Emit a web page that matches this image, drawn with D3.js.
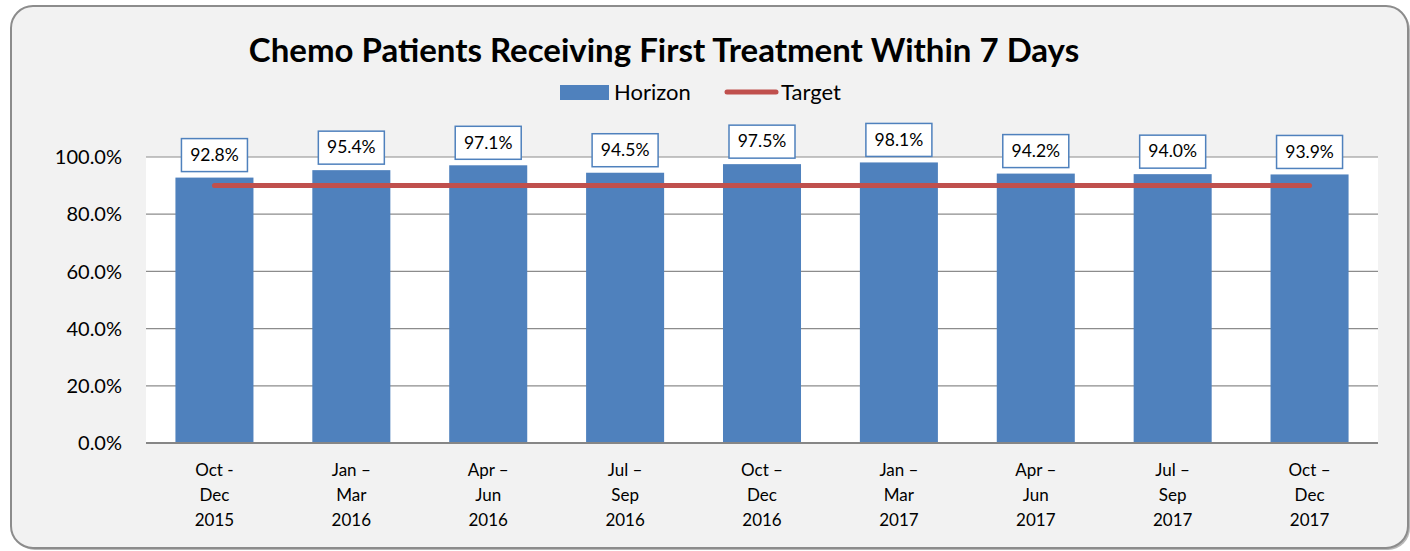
<!DOCTYPE html>
<html>
<head>
<meta charset="utf-8">
<script src="https://cdn.jsdelivr.net/npm/d3@7"></script>
<style>
  html, body { margin: 0; padding: 0; background: #fff; }
  svg { display: block; font-family: Lato, "Open Sans", sans-serif; }
</style>
</head>
<body>
<div id="chart"></div>
<script>
const categories = [
  ["Oct -", "Dec", "2015"],
  ["Jan –", "Mar", "2016"],
  ["Apr –", "Jun", "2016"],
  ["Jul –", "Sep", "2016"],
  ["Oct –", "Dec", "2016"],
  ["Jan –", "Mar", "2017"],
  ["Apr –", "Jun", "2017"],
  ["Jul –", "Sep", "2017"],
  ["Oct –", "Dec", "2017"]
];
const horizon = [92.8, 95.4, 97.1, 94.5, 97.5, 98.1, 94.2, 94.0, 93.9];
const target = [90, 90, 90, 90, 90, 90, 90, 90, 90];
const yTicks = [0, 20, 40, 60, 80, 100];

const width = 1410, height = 551;
const margin = { top: 157, right: 32, bottom: 108, left: 146 };
const innerW = width - margin.left - margin.right;
const innerH = height - margin.top - margin.bottom;

const svg = d3.select("#chart").append("svg")
  .attr("width", width)
  .attr("height", height);

// shadow + frame
svg.append("rect")
  .attr("x", 13).attr("y", 8)
  .attr("width", 1397).attr("height", 542)
  .attr("rx", 22)
  .attr("fill", "#8a8a8a")
  .attr("opacity", 0.6);
svg.append("rect")
  .attr("x", 11).attr("y", 6)
  .attr("width", 1397).attr("height", 542)
  .attr("rx", 22)
  .attr("fill", "#f2f2f2")
  .attr("stroke", "#8c8c8c")
  .attr("stroke-width", 2);

const g = svg.append("g")
  .attr("transform", `translate(${margin.left},${margin.top})`);

const x = d3.scaleBand()
  .domain(d3.range(categories.length))
  .range([0, innerW])
  .paddingInner(0.43)
  .paddingOuter(0.215);

const y = d3.scaleLinear()
  .domain([0, 100])
  .range([innerH, 0]);

g.append("rect")
  .attr("width", innerW)
  .attr("height", innerH)
  .attr("fill", "#fff");

// gridlines
g.selectAll("line.grid")
  .data(yTicks.filter(d => d > 0))
  .enter().append("line")
  .attr("class", "grid")
  .attr("x1", 0).attr("x2", innerW)
  .attr("y1", d => y(d)).attr("y2", d => y(d))
  .attr("stroke", "#8c8c8c")
  .attr("stroke-width", 1.2);

// y axis labels
g.selectAll("text.ytick")
  .data(yTicks)
  .enter().append("text")
  .attr("class", "ytick")
  .attr("x", -24)
  .attr("y", d => y(d))
  .attr("dy", "0.36em")
  .attr("text-anchor", "end")
  .attr("font-size", 20)
  .attr("fill", "#000")
  .text(d => d3.format(".1f")(d) + "%");

// bars
g.selectAll("rect.bar")
  .data(horizon)
  .enter().append("rect")
  .attr("class", "bar")
  .attr("x", (d, i) => x(i))
  .attr("y", d => y(d))
  .attr("width", x.bandwidth())
  .attr("height", d => innerH - y(d))
  .attr("fill", "#4f81bd");

// baseline
g.append("line")
  .attr("x1", 0).attr("x2", innerW)
  .attr("y1", innerH).attr("y2", innerH)
  .attr("stroke", "#868686")
  .attr("stroke-width", 2);

// target line
const line = d3.line()
  .x((d, i) => x(i) + x.bandwidth() / 2)
  .y(d => y(d));
g.append("path")
  .datum(target)
  .attr("d", line)
  .attr("fill", "none")
  .attr("stroke", "#c0504d")
  .attr("stroke-width", 5)
  .attr("stroke-linecap", "round");

// data labels
const labels = g.selectAll("g.label")
  .data(horizon)
  .enter().append("g")
  .attr("class", "label")
  .attr("transform", (d, i) => `translate(${x(i) + x.bandwidth() / 2},${y(d) - 23})`);
labels.append("rect")
  .attr("x", -33).attr("y", -16)
  .attr("width", 66).attr("height", 33)
  .attr("fill", "#fff")
  .attr("stroke", "#4f81bd")
  .attr("stroke-width", 1.5);
labels.append("text")
  .attr("text-anchor", "middle")
  .attr("dy", "0.36em")
  .attr("font-size", 17.5)
  .attr("fill", "#000")
  .text(d => d3.format(".1f")(d) + "%");

// x labels
const xl = g.selectAll("text.xtick")
  .data(categories)
  .enter().append("text")
  .attr("class", "xtick")
  .attr("x", (d, i) => x(i) + x.bandwidth() / 2)
  .attr("y", innerH + 33)
  .attr("text-anchor", "middle")
  .attr("font-size", 17)
  .attr("fill", "#000");
xl.selectAll("tspan")
  .data(d => d)
  .enter().append("tspan")
  .attr("x", function () { return this.parentNode.getAttribute("x"); })
  .attr("dy", (d, i) => i === 0 ? 0 : 25)
  .text(d => d);

// title
svg.append("text")
  .attr("x", 664)
  .attr("y", 62)
  .attr("text-anchor", "middle")
  .attr("font-size", 33)
  .attr("font-weight", "bold")
  .attr("fill", "#000")
  .text("Chemo Patients Receiving First Treatment Within 7 Days");

// legend
const legend = svg.append("g");
legend.append("rect")
  .attr("x", 560).attr("y", 85)
  .attr("width", 49).attr("height", 15)
  .attr("fill", "#4f81bd");
legend.append("text")
  .attr("x", 614).attr("y", 92)
  .attr("dy", "0.36em")
  .attr("font-size", 22)
  .text("Horizon");
legend.append("line")
  .attr("x1", 727).attr("x2", 776)
  .attr("y1", 92).attr("y2", 92)
  .attr("stroke", "#c0504d")
  .attr("stroke-width", 5)
  .attr("stroke-linecap", "round");
legend.append("text")
  .attr("x", 781).attr("y", 92)
  .attr("dy", "0.36em")
  .attr("font-size", 22)
  .text("Target");
</script>
</body>
</html>
